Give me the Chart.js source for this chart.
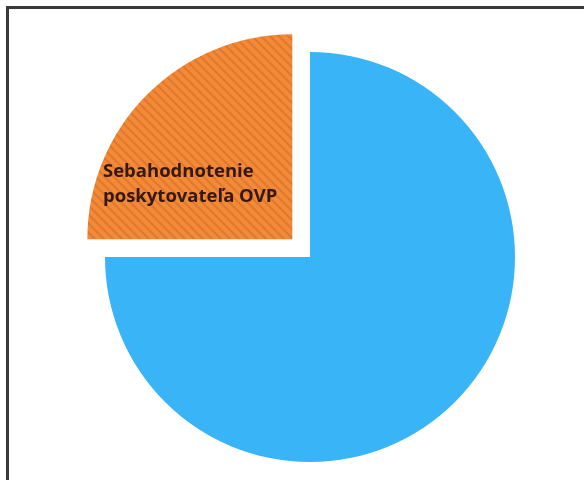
<!DOCTYPE html>
<html>
<head>
<meta charset="utf-8">
<script src="https://cdn.jsdelivr.net/npm/chart.js@4.4.0/dist/chart.umd.min.js"></script>
<style>
  html, body { margin: 0; padding: 0; background: #fff; overflow: hidden; }
  #wrap { position: relative; width: 584px; height: 480px; }
  #frame {
    position: absolute; left: 6px; top: 6px; width: 600px; height: 500px;
    border-top: 3px solid #3a3a3a; border-left: 3px solid #3a3a3a;
    box-sizing: border-box; pointer-events: none;
  }
  canvas { position: absolute; left: 0; top: 0; }
</style>
</head>
<body>
<div id="wrap">
  <canvas id="chart" width="584" height="480"></canvas>
  <div id="frame"></div>
</div>
<script>
// data
var categories = ['Ostatné', 'Sebahodnotenie poskytovateľa OVP'];
var shares = [75, 25];
var sliceOffsets = [0, 100];
var labelLines = ['Sebahodnotenie', 'poskytovateľa OVP'];

// hatched orange fill for the pulled-out slice
function makeHatch() {
  var c = document.createElement('canvas');
  c.width = 9; c.height = 9;
  var g = c.getContext('2d');
  g.fillStyle = '#f38a38';
  g.fillRect(0, 0, 9, 9);
  g.strokeStyle = '#d6712a';
  g.lineWidth = 1.4;
  g.beginPath();
  g.moveTo(-1, -1); g.lineTo(10, 10);
  g.moveTo(-1, 8); g.lineTo(1, 10);
  g.moveTo(8, -1); g.lineTo(10, 1);
  g.stroke();
  return g.createPattern(c, 'repeat');
}

var ctx = document.getElementById('chart').getContext('2d');
var hatch = makeHatch();

var sliceLabel = {
  id: 'sliceLabel',
  afterDatasetsDraw: function(chart) {
    var arc = chart.getDatasetMeta(0).data[1];
    if (!arc) return;
    var c = chart.ctx;
    c.save();
    c.font = 'bold 18.5px "Open Sans", sans-serif';
    c.fillStyle = '#351810';
    c.textBaseline = 'alphabetic';
    var x = arc.x - 207;
    var y = arc.y - 80;
    labelLines.forEach(function(line, i) {
      c.fillText(line, x, y + i * 25);
    });
    c.restore();
  }
};

new Chart(ctx, {
  type: 'pie',
  data: {
    labels: categories,
    datasets: [{
      data: shares,
      backgroundColor: ['#39b4f6', hatch],
      borderWidth: 0,
      offset: sliceOffsets
    }]
  },
  options: {
    responsive: false,
    animation: false,
    radius: 205,
    layout: { padding: { left: 36, right: 0, top: 34, bottom: 0 } },
    plugins: {
      legend: { display: false },
      tooltip: { enabled: false }
    }
  },
  plugins: [sliceLabel]
});
</script>
</body>
</html>
